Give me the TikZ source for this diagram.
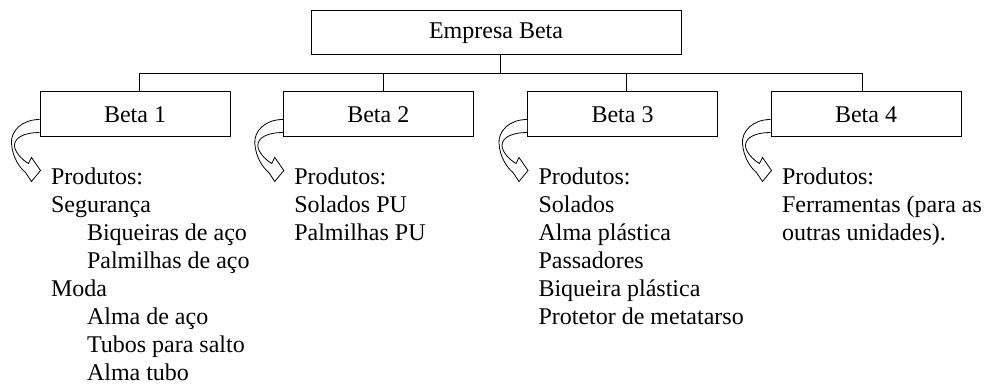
\documentclass[tikz,border=0pt]{standalone}
\usepackage{fontspec}
\setmainfont{Liberation Serif}
\begin{document}
\begin{tikzpicture}[x=1pt,y=-1pt,line width=1pt,
  unitbox/.style={draw, minimum width=190pt, minimum height=45pt, inner sep=0pt, font=\fontsize{24}{28}\selectfont},
  topbox/.style={draw, minimum width=370pt, minimum height=44pt, inner sep=0pt, font=\fontsize{24}{28}\selectfont},
  listtext/.style={anchor=base west, inner sep=0pt, font=\fontsize{24}{28}\selectfont},
  curvearrow/.style={draw, line width=0.8pt, fill=white, line join=miter}
]
\useasboundingbox (0,0) rectangle (985,387);
\node[topbox] (top) at (496,33) {Empresa Beta};
\node[unitbox] (b1) at (135,114.5) {Beta 1};
\node[unitbox] (b2) at (378.3,114.5) {Beta 2};
\node[unitbox] (b3) at (622.5,114.5) {Beta 3};
\node[unitbox] (b4) at (866,114.5) {Beta 4};
\coordinate (bus) at (0,74);
% connectors
\draw ([xshift=4.7pt]top.south) -- ([xshift=4.7pt]top.south |- bus);
\draw ([xshift=4.5pt]b1.north) |- ([xshift=-4pt]b4.north |- bus) -- ([xshift=-4pt]b4.north);
\draw ([xshift=5pt]b2.north) -- ([xshift=5pt]b2.north |- bus);
\draw ([xshift=4.2pt]b3.north) -- ([xshift=4.2pt]b3.north |- bus);
% curved arrows
\foreach \b in {b1,b2,b3,b4}{
  \draw[curvearrow, shift={(\b.south west)}]
    (0,-18) .. controls (-18,-18) and (-29,-6) .. (-28,6)
    .. controls (-27,20) and (-20,30) .. (-14,35)
    -- (-8,44) -- (1,33) -- (-8,20) -- (-11,26)
    .. controls (-18,22) and (-25,14) .. (-25,8)
    .. controls (-25,0) and (-15,-5) .. (0,-5);
}
% product lists
\node[listtext] (t1) at ([xshift=11pt,yshift=-47pt]b1.south west) {\parbox[t]{200pt}{Produtos:\\Segurança\\\hspace*{36pt}Biqueiras de aço\\\hspace*{36pt}Palmilhas de aço\\Moda\\\hspace*{36pt}Alma de aço\\\hspace*{36pt}Tubos para salto\\\hspace*{36pt}Alma tubo}};
\node[listtext] (t2) at ([xshift=11pt,yshift=-47pt]b2.south west) {\parbox[t]{200pt}{Produtos:\\Solados PU\\Palmilhas PU}};
\node[listtext] (t3) at ([xshift=11pt,yshift=-47pt]b3.south west) {\parbox[t]{250pt}{Produtos:\\Solados\\Alma plástica\\Passadores\\Biqueira plástica\\Protetor de metatarso}};
\node[listtext] (t4) at ([xshift=11pt,yshift=-47pt]b4.south west) {\parbox[t]{200pt}{Produtos:\\Ferramentas (para as\\outras unidades).}};
\end{tikzpicture}
\end{document}
